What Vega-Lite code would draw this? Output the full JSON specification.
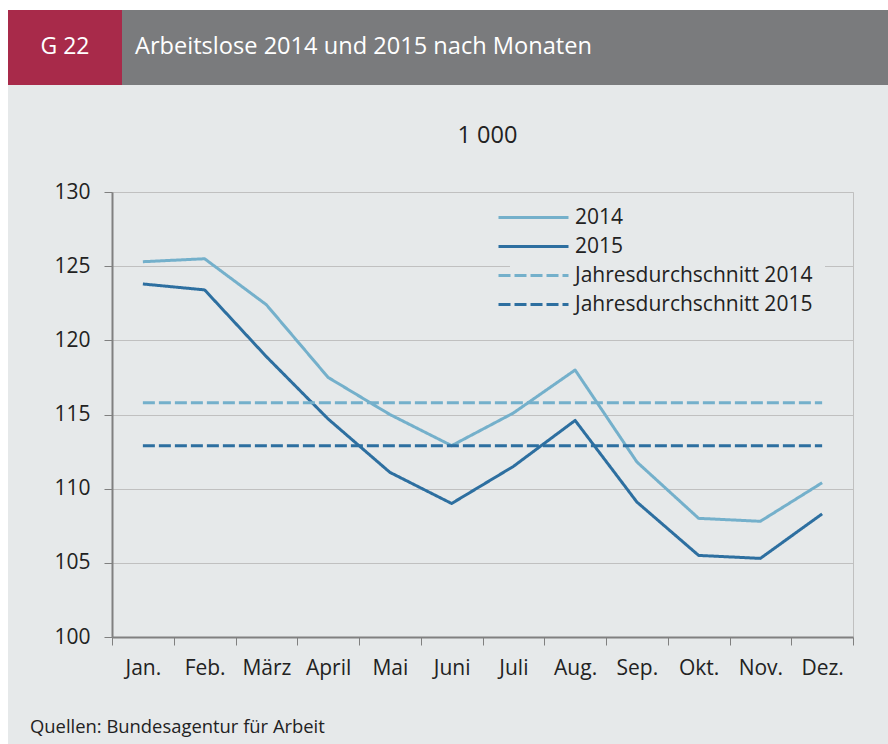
{
  "$schema": "https://vega.github.io/schema/vega-lite/v6.json",
  "width": 741,
  "height": 445,
  "autosize": {"type": "none"},
  "padding": {"left": 112, "top": 192, "right": 35, "bottom": 107},
  "background": "#e6e9ea",
  "config": {
    "font": "Open Sans",
    "view": {"stroke": "#c0c0c0", "strokeWidth": 1},
    "axis": {
      "labelFont": "Open Sans",
      "labelColor": "#222222",
      "domainColor": "#808080",
      "domainWidth": 2,
      "tickColor": "#808080",
      "tickWidth": 1,
      "tickSize": 8,
      "gridColor": "#c0c0c0",
      "gridWidth": 1
    },
    "legend": {
      "orient": "none",
      "legendX": 398,
      "legendY": 2,
      "symbolType": "M-3.5,0H3.5",
      "symbolSize": 400,
      "symbolStrokeWidth": 3,
      "labelFont": "Open Sans",
      "labelFontSize": 21,
      "labelColor": "#222222",
      "labelOffset": 30,
      "fillColor": "#e6e9ea",
      "padding": 12,
      "rowPadding": 7,
      "labelLimit": 400
    }
  },
  "layer": [
    {
      "data": {"values": [{}]},
      "mark": {"type": "rect", "fill": "#ffffff"},
      "encoding": {"x": {"value": -112}, "x2": {"value": 776}, "y": {"value": -192}, "y2": {"value": -182}}
    },
    {
      "data": {"values": [{}]},
      "mark": {"type": "rect", "fill": "#ffffff"},
      "encoding": {"x": {"value": -112}, "x2": {"value": -104}, "y": {"value": -192}, "y2": {"value": 552}}
    },
    {
      "data": {"values": [{}]},
      "mark": {"type": "rect", "fill": "#a82a4a"},
      "encoding": {"x": {"value": -104}, "x2": {"value": 10}, "y": {"value": -182}, "y2": {"value": -107}}
    },
    {
      "data": {"values": [{}]},
      "mark": {"type": "rect", "fill": "#7a7b7d"},
      "encoding": {"x": {"value": 10}, "x2": {"value": 776}, "y": {"value": -182}, "y2": {"value": -107}}
    },
    {
      "data": {"values": [{}]},
      "mark": {"type": "text", "color": "#ffffff", "font": "Open Sans", "fontSize": 23, "align": "center", "baseline": "middle"},
      "encoding": {"x": {"value": -47}, "y": {"value": -145}, "text": {"value": "G 22"}}
    },
    {
      "data": {"values": [{}]},
      "mark": {"type": "text", "color": "#ffffff", "font": "Open Sans", "fontSize": 23.6, "align": "left", "baseline": "middle"},
      "encoding": {"x": {"value": 23}, "y": {"value": -145}, "text": {"value": "Arbeitslose 2014 und 2015 nach Monaten"}}
    },
    {
      "data": {"values": [{}]},
      "mark": {"type": "text", "color": "#222222", "font": "Open Sans", "fontSize": 18.4, "align": "left", "baseline": "middle"},
      "encoding": {"x": {"value": -82}, "y": {"value": 535}, "text": {"value": "Quellen: Bundesagentur für Arbeit"}}
    },
    {
      "data": {"name": "arbeitslose"},
      "mark": {"type": "line", "strokeWidth": 3, "strokeCap": "butt", "strokeJoin": "round"},
      "encoding": {
        "x": {
          "field": "monat",
          "type": "ordinal",
          "sort": ["Jan.", "Feb.", "März", "April", "Mai", "Juni", "Juli", "Aug.", "Sep.", "Okt.", "Nov.", "Dez."],
          "scale": {"type": "band", "paddingInner": 0, "paddingOuter": 0},
          "axis": {"title": null, "labelAngle": 0, "labelFontSize": 21, "labelPadding": 12, "tickBand": "extent", "grid": false}
        },
        "y": {
          "field": "wert",
          "type": "quantitative",
          "scale": {"domain": [100, 130], "nice": false, "zero": false},
          "axis": {
            "title": "1 000",
            "titleFont": "Open Sans",
            "titleFontSize": 23.5,
            "titleFontWeight": "normal",
            "titleColor": "#222222",
            "titleAngle": 0,
            "titleAlign": "center",
            "titleBaseline": "middle",
            "titleX": 375,
            "titleY": -57,
            "values": [100, 105, 110, 115, 120, 125, 130],
            "labelFontSize": 21,
            "labelPadding": 14,
            "grid": true
          }
        },
        "color": {
          "field": "reihe",
          "type": "nominal",
          "scale": {
            "domain": ["2014", "2015", "Jahresdurchschnitt 2014", "Jahresdurchschnitt 2015"],
            "range": ["#74b0cb", "#2d6fa0", "#74b0cb", "#2d6fa0"]
          },
          "legend": {"title": null}
        },
        "strokeDash": {
          "field": "reihe",
          "type": "nominal",
          "scale": {
            "domain": ["2014", "2015", "Jahresdurchschnitt 2014", "Jahresdurchschnitt 2015"],
            "range": [[1, 0], [1, 0], [12, 4], [12, 4]]
          },
          "legend": {"title": null}
        }
      }
    }
  ],
  "datasets": {
    "arbeitslose": [
      {"monat": "Jan.", "reihe": "2014", "wert": 125.3},
      {"monat": "Feb.", "reihe": "2014", "wert": 125.5},
      {"monat": "März", "reihe": "2014", "wert": 122.4},
      {"monat": "April", "reihe": "2014", "wert": 117.5},
      {"monat": "Mai", "reihe": "2014", "wert": 115.0},
      {"monat": "Juni", "reihe": "2014", "wert": 112.9},
      {"monat": "Juli", "reihe": "2014", "wert": 115.1},
      {"monat": "Aug.", "reihe": "2014", "wert": 118.0},
      {"monat": "Sep.", "reihe": "2014", "wert": 111.8},
      {"monat": "Okt.", "reihe": "2014", "wert": 108.0},
      {"monat": "Nov.", "reihe": "2014", "wert": 107.8},
      {"monat": "Dez.", "reihe": "2014", "wert": 110.4},
      {"monat": "Jan.", "reihe": "2015", "wert": 123.8},
      {"monat": "Feb.", "reihe": "2015", "wert": 123.4},
      {"monat": "März", "reihe": "2015", "wert": 118.9},
      {"monat": "April", "reihe": "2015", "wert": 114.7},
      {"monat": "Mai", "reihe": "2015", "wert": 111.1},
      {"monat": "Juni", "reihe": "2015", "wert": 109.0},
      {"monat": "Juli", "reihe": "2015", "wert": 111.5},
      {"monat": "Aug.", "reihe": "2015", "wert": 114.6},
      {"monat": "Sep.", "reihe": "2015", "wert": 109.1},
      {"monat": "Okt.", "reihe": "2015", "wert": 105.5},
      {"monat": "Nov.", "reihe": "2015", "wert": 105.3},
      {"monat": "Dez.", "reihe": "2015", "wert": 108.3},
      {"monat": "Jan.", "reihe": "Jahresdurchschnitt 2014", "wert": 115.8},
      {"monat": "Feb.", "reihe": "Jahresdurchschnitt 2014", "wert": 115.8},
      {"monat": "März", "reihe": "Jahresdurchschnitt 2014", "wert": 115.8},
      {"monat": "April", "reihe": "Jahresdurchschnitt 2014", "wert": 115.8},
      {"monat": "Mai", "reihe": "Jahresdurchschnitt 2014", "wert": 115.8},
      {"monat": "Juni", "reihe": "Jahresdurchschnitt 2014", "wert": 115.8},
      {"monat": "Juli", "reihe": "Jahresdurchschnitt 2014", "wert": 115.8},
      {"monat": "Aug.", "reihe": "Jahresdurchschnitt 2014", "wert": 115.8},
      {"monat": "Sep.", "reihe": "Jahresdurchschnitt 2014", "wert": 115.8},
      {"monat": "Okt.", "reihe": "Jahresdurchschnitt 2014", "wert": 115.8},
      {"monat": "Nov.", "reihe": "Jahresdurchschnitt 2014", "wert": 115.8},
      {"monat": "Dez.", "reihe": "Jahresdurchschnitt 2014", "wert": 115.8},
      {"monat": "Jan.", "reihe": "Jahresdurchschnitt 2015", "wert": 112.9},
      {"monat": "Feb.", "reihe": "Jahresdurchschnitt 2015", "wert": 112.9},
      {"monat": "März", "reihe": "Jahresdurchschnitt 2015", "wert": 112.9},
      {"monat": "April", "reihe": "Jahresdurchschnitt 2015", "wert": 112.9},
      {"monat": "Mai", "reihe": "Jahresdurchschnitt 2015", "wert": 112.9},
      {"monat": "Juni", "reihe": "Jahresdurchschnitt 2015", "wert": 112.9},
      {"monat": "Juli", "reihe": "Jahresdurchschnitt 2015", "wert": 112.9},
      {"monat": "Aug.", "reihe": "Jahresdurchschnitt 2015", "wert": 112.9},
      {"monat": "Sep.", "reihe": "Jahresdurchschnitt 2015", "wert": 112.9},
      {"monat": "Okt.", "reihe": "Jahresdurchschnitt 2015", "wert": 112.9},
      {"monat": "Nov.", "reihe": "Jahresdurchschnitt 2015", "wert": 112.9},
      {"monat": "Dez.", "reihe": "Jahresdurchschnitt 2015", "wert": 112.9}
    ]
  }
}
